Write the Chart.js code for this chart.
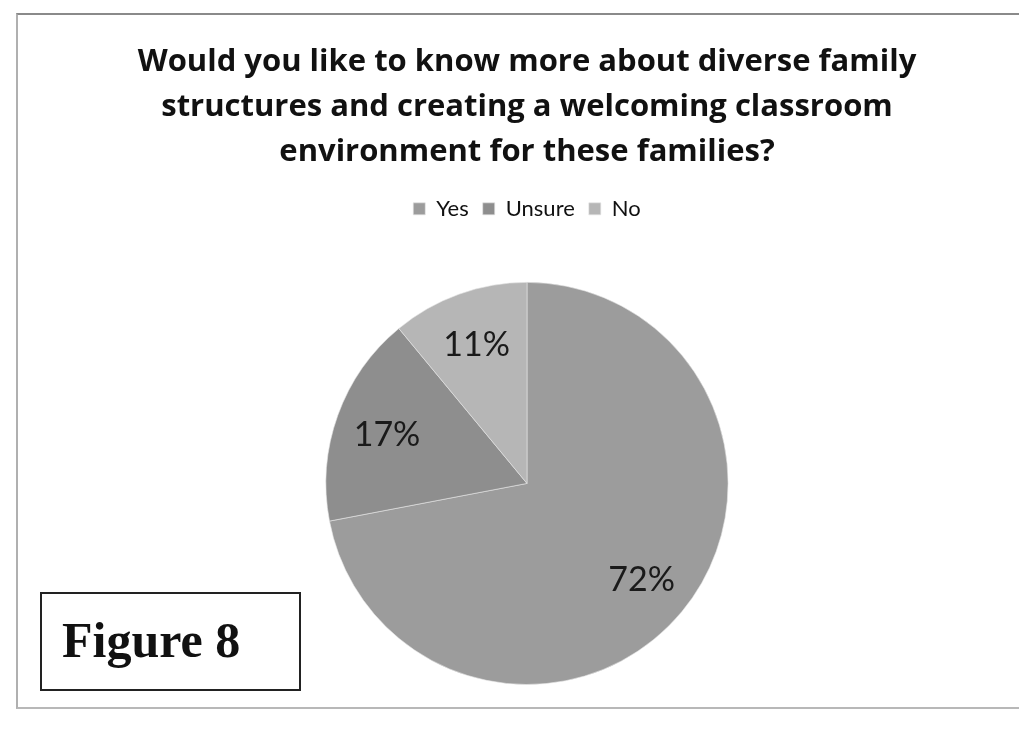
<!DOCTYPE html>
<html>
<head>
<meta charset="utf-8">
<script src="https://cdn.jsdelivr.net/npm/chart.js@4/dist/chart.umd.min.js"></script>
<style>
  html, body { margin: 0; padding: 0; background: #fff; }
  #wrap { position: relative; width: 1019px; height: 738px; overflow: hidden; }
  #frame { position: absolute; left: 16px; top: 13px; width: 1010px; height: 692px;
           border-top: 2px solid #8a8a8a; border-left: 2px solid #b0b0b0; border-bottom: 2px solid #b8b8b8; }
  #chart { position: absolute; left: 0; top: 0; }
  #fig { position: absolute; left: 40px; top: 592px; width: 261px; height: 99px; box-sizing: border-box;
         border: 2px solid #222; font-family: "Liberation Serif", serif; font-weight: bold;
         font-size: 50px; line-height: 93px; padding-left: 20px; color: #111; }
</style>
</head>
<body>
<div id="wrap">
  <div id="frame"></div>
  <canvas id="chart" width="1019" height="738"></canvas>
  <div id="fig">Figure 8</div>
</div>
<script>
var labels = ["Yes", "Unsure", "No"];
var values = [72, 17, 11];
var colors = ["#9c9c9c", "#8e8e8e", "#b6b6b6"];
var titleLines = [
  "Would you like to know more about diverse family",
  "structures and creating a welcoming classroom",
  "environment for these families?"
];

// pushes the pie down below the legend
var legendSpacer = {
  id: "legendSpacer",
  beforeInit: function (chart) {
    var fit = chart.legend.fit;
    chart.legend.fit = function () {
      fit.bind(chart.legend)();
      this.height += 52;
    };
  }
};

// percent labels inside the slices
var pctLabels = {
  id: "pctLabels",
  afterDatasetsDraw: function (chart) {
    var ctx = chart.ctx;
    var meta = chart.getDatasetMeta(0);
    var total = values.reduce(function (a, b) { return a + b; }, 0);
    ctx.save();
    ctx.font = "34px Lato";
    ctx.fillStyle = "#1a1a1a";
    ctx.textAlign = "center";
    ctx.textBaseline = "middle";
    meta.data.forEach(function (arc, i) {
      var mid = (arc.startAngle + arc.endAngle) / 2;
      var r = arc.outerRadius * 0.74;
      ctx.fillText(Math.round(values[i] / total * 100) + "%",
        arc.x + Math.cos(mid) * r, arc.y + Math.sin(mid) * r + 2);
    });
    ctx.restore();
  }
};

var ctx = document.getElementById("chart").getContext("2d");
new Chart(ctx, {
  type: "pie",
  data: {
    labels: labels,
    datasets: [{
      data: values,
      backgroundColor: colors,
      borderColor: "rgba(230,230,230,0.6)",
      borderWidth: 1
    }]
  },
  options: {
    responsive: false,
    animation: false,
    layout: { padding: { top: 40, left: 35, right: 0, bottom: 53 } },
    plugins: {
      title: {
        display: true,
        text: titleLines,
        color: "#111",
        font: { family: "Open Sans", size: 31, weight: "bold", lineHeight: 1.45 },
        padding: { top: 0, bottom: 9 }
      },
      legend: {
        display: true,
        position: "top",
        labels: {
          color: "#111",
          font: { family: "Lato", size: 22 },
          boxWidth: 12,
          boxHeight: 12,
          padding: 14
        }
      },
      tooltip: { enabled: false }
    }
  },
  plugins: [legendSpacer, pctLabels]
});
</script>
</body>
</html>
